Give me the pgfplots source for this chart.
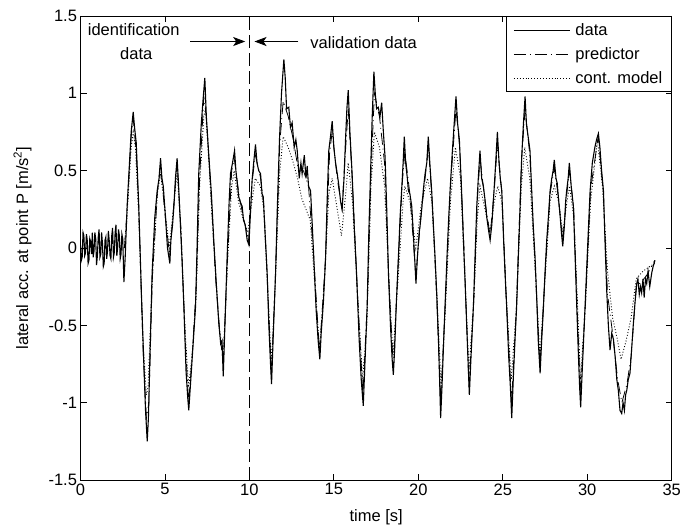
\documentclass[border=0pt]{standalone}
\usepackage{fontspec}
\setmainfont{Liberation Sans}
\usepackage{pgfplots}
\pgfplotsset{compat=1.18}
\usetikzlibrary{arrows.meta}

\newcommand{\fs}{\fontsize{16.5}{19.5}\selectfont}

\begin{document}
\begin{tikzpicture}
\begin{axis}[
    scale only axis,
    width=591.2pt, height=464pt,
    xmin=0, xmax=35, ymin=-1.5, ymax=1.5,
    xtick={0,5,...,35},
    ytick={-1.5,-1,...,1.5},
    tick align=inside,
    major tick length=6pt,
    axis line style={line width=0.8pt},
    every tick/.style={black, line width=0.8pt},
    tick label style={font=\fs},
    label style={font=\fs},
    /pgf/number format/assume math mode=true,
    xlabel={time [s]},
    ylabel={lateral acc. at point P [m/s\textsuperscript{2}]},
    xlabel style={at={(axis description cs:0.5,-0.08)}, anchor=center},
    ylabel style={at={(axis description cs:-0.098,0.5)}, anchor=center, rotate=0},
    legend style={at={(1,1)}, anchor=north east, font=\fs, draw=black,
        line width=0.8pt, row sep=6.5pt, column sep=3pt, inner xsep=7pt, inner ysep=5pt,
        nodes={inner xsep=2pt, inner ysep=2pt}},
    legend cell align=left,
    legend image code/.code={\draw[#1] (0pt,0pt) -- (56pt,0pt);},
]
% data
\addplot[black, line width=1.1pt] coordinates {
(0.0,0.02) (0.05,-0.08) (0.1,-0.06) (0.15,0.1) (0.2,0.08) (0.25,-0.05) (0.3,-0.03) (0.35,0.09) (0.4,0.05) (0.45,-0.1) (0.5,-0.08) (0.55,0.06) (0.6,0.04) (0.65,-0.04) (0.7,0.10)
(0.75,-0.06) (0.8,-0.02) (0.85,0.1) (0.9,0.06) (0.95,-0.11) (1.0,-0.05) (1.05,0.07) (1.1,0.12) (1.15,-0.06) (1.2,-0.04) (1.25,0.1) (1.3,0.03) (1.35,-0.12) (1.4,-0.10) (1.45,0.05) (1.5,0.07)
(1.55,-0.07) (1.6,-0.02) (1.65,0.11) (1.7,0.05) (1.75,-0.05) (1.8,-0.07) (1.85,0.08) (1.9,0.13) (1.95,-0.06) (2.0,-0.03) (2.05,0.1) (2.1,0.15) (2.15,-0.05) (2.2,0.00) (2.25,0.12) (2.3,0.08)
(2.35,-0.07) (2.4,-0.04) (2.45,0.09) (2.5,0.06) (2.57,-0.22) (2.65,-0.05) (2.76,0.27) (2.9,0.55) (3.0,0.75) (3.12,0.88)
(3.2,0.78) (3.3,0.68) (3.45,0.27) (3.61,-0.31) (3.75,-0.75) (3.85,-1.05) (3.95,-1.25) (4.02,-1.1)
(4.1,-0.75) (4.24,-0.16) (4.4,0.2) (4.54,0.37) (4.65,0.45) (4.74,0.58) (4.82,0.45) (4.9,0.4)
(5.03,0.2) (5.15,0.0) (5.22,-0.05) (5.29,-0.1) (5.35,0.05) (5.45,0.15) (5.53,0.27) (5.62,0.45)
(5.72,0.58) (5.8,0.42) (5.92,0.14) (6.02,-0.1) (6.12,-0.38) (6.25,-0.8) (6.35,-0.97) (6.41,-1.05)
(6.5,-0.9) (6.65,-0.65) (6.81,-0.38) (6.9,0.0) (7.0,0.48) (7.15,0.8) (7.25,0.95) (7.36,1.10)
(7.45,0.85) (7.6,0.59) (7.75,0.35) (7.89,0.05) (8.05,-0.25) (8.19,-0.49) (8.3,-0.62) (8.38,-0.6)
(8.45,-0.83) (8.52,-0.6) (8.68,-0.06) (8.8,0.3) (8.88,0.48) (9.0,0.55) (9.12,0.63) (9.2,0.5)
(9.3,0.4) (9.37,0.33) (9.45,0.3) (9.57,0.27) (9.65,0.18) (9.75,0.15) (9.87,0.05) (9.97,0.02)
(10.05,0.2) (10.16,0.44) (10.25,0.55) (10.36,0.67) (10.45,0.55) (10.55,0.5) (10.66,0.48) (10.75,0.35)
(10.82,0.33) (10.95,0.05) (11.05,-0.16) (11.15,-0.5) (11.25,-0.75) (11.31,-0.88) (11.4,-0.6) (11.55,-0.16)
(11.65,0.25) (11.78,0.70) (11.9,1.0) (12.04,1.22) (12.12,1.1) (12.2,0.9) (12.33,0.91) (12.43,0.78)
(12.53,0.81) (12.65,0.65) (12.75,0.7) (12.83,0.63) (12.95,0.45) (13.05,0.55) (13.12,0.48) (13.25,0.6)
(13.35,0.45) (13.42,0.53) (13.5,0.4) (13.62,0.37) (13.72,0.15) (13.81,-0.06) (13.95,-0.4) (14.07,-0.6)
(14.17,-0.72) (14.25,-0.55) (14.38,-0.35) (14.51,-0.06) (14.6,0.3) (14.70,0.63) (14.8,0.72) (14.9,0.82)
(15.0,0.65) (15.1,0.55) (15.2,0.48) (15.3,0.4) (15.4,0.3) (15.49,0.25) (15.6,0.45) (15.69,0.70)
(15.77,0.9) (15.85,1.02) (15.95,0.75) (16.08,0.48) (16.2,0.15) (16.34,-0.16) (16.5,-0.6) (16.62,-0.85)
(16.74,-1.02) (16.82,-0.8) (16.97,-0.38) (17.07,0.1) (17.17,0.48) (17.27,0.85) (17.37,1.14) (17.45,1.0)
(17.53,0.9) (17.63,0.91) (17.73,0.85) (17.83,0.94) (17.93,0.75) (18.03,0.59) (18.13,0.25) (18.23,-0.16)
(18.35,-0.5) (18.45,-0.72) (18.52,-0.82) (18.6,-0.65) (18.7,-0.35) (18.82,-0.06) (18.92,0.2) (19.01,0.37)
(19.1,0.55) (19.17,0.72) (19.25,0.55) (19.35,0.45) (19.41,0.37) (19.5,0.35) (19.61,0.27) (19.7,0.1)
(19.8,-0.1) (19.86,-0.23) (19.95,-0.05) (20.05,0.1) (20.1,0.14) (20.2,0.25) (20.3,0.38) (20.4,0.48)
(20.5,0.55) (20.59,0.72) (20.68,0.55) (20.79,0.37) (20.89,0.15) (20.99,-0.06) (21.09,-0.3) (21.19,-0.59)
(21.26,-0.85) (21.32,-1.1) (21.4,-0.9) (21.5,-0.6) (21.58,-0.38) (21.7,-0.05) (21.8,0.2) (21.88,0.37)
(22.0,0.6) (22.12,0.8) (22.23,0.98) (22.33,0.8) (22.43,0.70) (22.55,0.4) (22.67,0.05) (22.78,-0.25)
(22.86,-0.49) (22.95,-0.75) (23.02,-0.95) (23.12,-0.7) (23.26,-0.38) (23.36,-0.05) (23.46,0.27) (23.55,0.45)
(23.65,0.63) (23.75,0.45) (23.85,0.4) (23.95,0.31) (24.05,0.2) (24.15,0.12) (24.25,0.05) (24.35,0.15)
(24.48,0.37) (24.58,0.55) (24.68,0.75) (24.78,0.55) (24.85,0.45) (24.94,0.37) (25.05,0.05) (25.15,-0.2)
(25.23,-0.38) (25.35,-0.7) (25.45,-0.9) (25.53,-1.1) (25.62,-0.85) (25.72,-0.6) (25.82,-0.38) (25.92,-0.05)
(26.02,0.25) (26.12,0.59) (26.22,0.8) (26.32,0.98) (26.4,0.8) (26.5,0.72) (26.61,0.63) (26.7,0.4)
(26.8,0.15) (26.91,-0.06) (27.0,-0.3) (27.1,-0.6) (27.21,-0.81) (27.3,-0.6) (27.4,-0.4) (27.5,-0.16)
(27.6,0.05) (27.7,0.2) (27.8,0.37) (27.9,0.45) (27.98,0.5) (28.05,0.57) (28.15,0.45) (28.22,0.42)
(28.29,0.33) (28.4,0.2) (28.47,0.1) (28.55,0.01) (28.65,0.15) (28.72,0.3) (28.78,0.37) (28.87,0.45)
(28.94,0.55) (29.05,0.4) (29.18,0.27) (29.28,-0.05) (29.38,-0.38) (29.48,-0.7) (29.55,-0.9) (29.61,-1.03)
(29.7,-0.8) (29.87,-0.38) (30.0,-0.05) (30.1,0.2) (30.17,0.37) (30.3,0.55) (30.45,0.65) (30.55,0.7)
(30.66,0.74) (30.75,0.65) (30.85,0.5) (30.96,0.37) (31.05,0.05) (31.15,-0.27) (31.25,-0.5) (31.35,-0.66)
(31.45,-0.55) (31.55,-0.59) (31.65,-0.7) (31.75,-0.85) (31.84,-0.92) (31.94,-1.05) (32.04,-1.07) (32.12,-1.0)
(32.2,-1.05) (32.27,-0.95) (32.34,-0.92) (32.43,-0.85) (32.53,-0.81) (32.63,-0.65) (32.73,-0.49) (32.83,-0.35)
(32.93,-0.23) (33.0,-0.2) (33.08,-0.3) (33.15,-0.25) (33.22,-0.29) (33.3,-0.2) (33.37,-0.32) (33.45,-0.2)
(33.52,-0.23) (33.6,-0.15) (33.7,-0.25) (33.82,-0.16) (33.9,-0.12) (34.01,-0.08)
};
\addlegendentry{data}
% predictor
\addplot[black, line width=0.8pt, dash pattern=on 12pt off 4pt on 1pt off 4pt] coordinates {
(2.6,0.0) (2.76,0.25) (3.0,0.72) (3.12,0.84) (3.3,0.62) (3.45,0.25) (3.7,-0.65) (3.9,-1.1)
(4.05,-1.0) (4.25,-0.2) (4.55,0.36) (4.74,0.54) (5.0,0.22) (5.28,-0.05) (5.5,0.25) (5.72,0.55)
(5.95,0.12) (6.2,-0.6) (6.4,-1.0) (6.6,-0.72) (6.85,-0.25) (7.05,0.45) (7.3,0.98) (7.45,0.85)
(7.7,0.4) (8.0,-0.2) (8.25,-0.55) (8.45,-0.75) (8.7,-0.08) (8.95,0.5) (9.1,0.58) (9.4,0.33)
(9.7,0.17) (9.95,0.05) (10.15,0.42) (10.35,0.6) (10.65,0.46) (10.85,0.28) (11.1,-0.3) (11.3,-0.82)
(11.55,-0.15) (11.8,0.68) (12.0,0.95) (12.3,0.85) (12.6,0.7) (12.9,0.5) (13.2,0.5) (13.5,0.4)
(13.8,-0.05) (14.15,-0.68) (14.5,-0.08) (14.75,0.62) (14.9,0.75) (15.2,0.45) (15.48,0.25) (15.7,0.65)
(15.85,0.9) (16.1,0.42) (16.4,-0.3) (16.72,-0.95) (17.0,-0.3) (17.2,0.5) (17.4,1.0) (17.7,0.85)
(18.0,0.55) (18.25,-0.2) (18.52,-0.78) (18.82,-0.08) (19.05,0.42) (19.2,0.62) (19.5,0.35) (19.85,-0.18)
(20.15,0.2) (20.4,0.45) (20.6,0.65) (20.85,0.25) (21.1,-0.35) (21.32,-1.0) (21.6,-0.35) (21.9,0.4)
(22.23,0.9) (22.45,0.65) (22.7,0.0) (23.0,-0.9) (23.3,-0.3) (23.5,0.32) (23.65,0.58) (23.95,0.3)
(24.25,0.08) (24.5,0.38) (24.68,0.68) (24.95,0.35) (25.2,-0.32) (25.52,-1.0) (25.8,-0.4) (26.1,0.55)
(26.32,0.9) (26.6,0.6) (26.9,-0.08) (27.2,-0.76) (27.5,-0.18) (27.8,0.35) (28.05,0.52) (28.3,0.32)
(28.55,0.04) (28.8,0.36) (28.95,0.5) (29.2,0.25) (29.4,-0.38) (29.6,-0.95) (29.9,-0.35) (30.2,0.38)
(30.65,0.72) (30.95,0.36) (31.2,-0.3) (31.5,-0.55) (31.8,-0.85) (32.05,-1.0) (32.35,-0.88) (32.6,-0.7)
(32.9,-0.25) (33.2,-0.22) (33.5,-0.18) (33.8,-0.12) (34.0,-0.08)
};
\addlegendentry{predictor}
% continuous model
\addplot[black, line width=0.9pt, dotted] coordinates {
(2.6,0.0) (2.75,0.2) (3.0,0.65) (3.12,0.75) (3.25,0.65) (3.45,0.2) (3.7,-0.6) (3.9,-0.95)
(4.0,-0.9) (4.25,-0.2) (4.55,0.35) (4.74,0.48) (4.95,0.3) (5.25,0.0) (5.5,0.25) (5.72,0.5)
(5.95,0.1) (6.2,-0.55) (6.4,-0.9) (6.6,-0.7) (6.85,-0.3) (7.05,0.4) (7.3,0.85) (7.4,0.9)
(7.6,0.55) (7.9,0.0) (8.2,-0.5) (8.45,-0.7) (8.7,-0.1) (8.95,0.4) (9.1,0.5) (9.35,0.3)
(9.6,0.2) (9.9,0.1) (10.15,0.3) (10.35,0.45) (10.65,0.4) (10.85,0.25) (11.1,-0.3) (11.3,-0.75)
(11.5,-0.3) (11.8,0.5) (12.0,0.72) (12.3,0.65) (12.6,0.55) (12.85,0.45) (13.1,0.32) (13.35,0.25)
(13.6,0.18) (13.85,-0.2) (14.15,-0.65) (14.45,-0.2) (14.7,0.35) (14.9,0.45) (15.2,0.25) (15.45,0.08)
(15.7,0.35) (15.85,0.55) (16.1,0.3) (16.4,-0.3) (16.7,-0.85) (16.95,-0.5) (17.2,0.4) (17.4,0.75)
(17.7,0.65) (18.0,0.4) (18.3,-0.3) (18.5,-0.7) (18.8,-0.2) (19.1,0.3) (19.2,0.4) (19.5,0.3)
(19.85,0.0) (20.2,0.3) (20.55,0.45) (20.8,0.3) (21.1,-0.3) (21.35,-0.9) (21.6,-0.4) (21.9,0.3)
(22.2,0.65) (22.5,0.45) (22.8,-0.3) (23.0,-0.8) (23.3,-0.3) (23.5,0.2) (23.65,0.4) (23.95,0.25)
(24.25,0.1) (24.5,0.3) (24.7,0.4) (24.95,0.3) (25.2,-0.3) (25.5,-0.85) (25.8,-0.4) (26.1,0.4)
(26.3,0.65) (26.6,0.45) (26.9,-0.1) (27.2,-0.7) (27.5,-0.2) (27.8,0.3) (28.05,0.4) (28.3,0.3)
(28.55,0.1) (28.8,0.3) (28.95,0.4) (29.2,0.2) (29.4,-0.3) (29.6,-0.85) (29.9,-0.35) (30.2,0.3)
(30.6,0.7) (30.9,0.4) (31.2,-0.15) (31.5,-0.45) (31.8,-0.6) (32.0,-0.72) (32.3,-0.6) (32.6,-0.45)
(32.9,-0.2) (33.3,-0.15) (33.7,-0.12) (34.0,-0.1)
};
\addlegendentry{cont. model}
% split between identification and validation data
\draw[black, line width=0.8pt, dash pattern=on 13pt off 5pt] (axis cs:10,-1.5) -- (axis cs:10,1.5);
\draw[black, line width=0.8pt, -{Stealth[length=12pt, width=9pt, inset=3pt]}] (axis cs:6.5,1.335) -- (axis cs:9.75,1.335);
\draw[black, line width=0.8pt, -{Stealth[length=12pt, width=9pt, inset=3pt]}] (axis cs:12.9,1.335) -- (axis cs:10.3,1.335);
\node[font=\fs, inner sep=0pt] at (axis cs:3.15,1.41) {identification};
\node[font=\fs, inner sep=0pt] at (axis cs:3.3,1.26) {data};
\node[font=\fs, inner sep=0pt, anchor=west] at (axis cs:13.6,1.33) {validation data};
\end{axis}
\pgfresetboundingbox
\path ([shift={(-80.5pt,-51pt)}]current axis.south west) rectangle ([shift={(10.3pt,16pt)}]current axis.north east);
\end{tikzpicture}
\end{document}
